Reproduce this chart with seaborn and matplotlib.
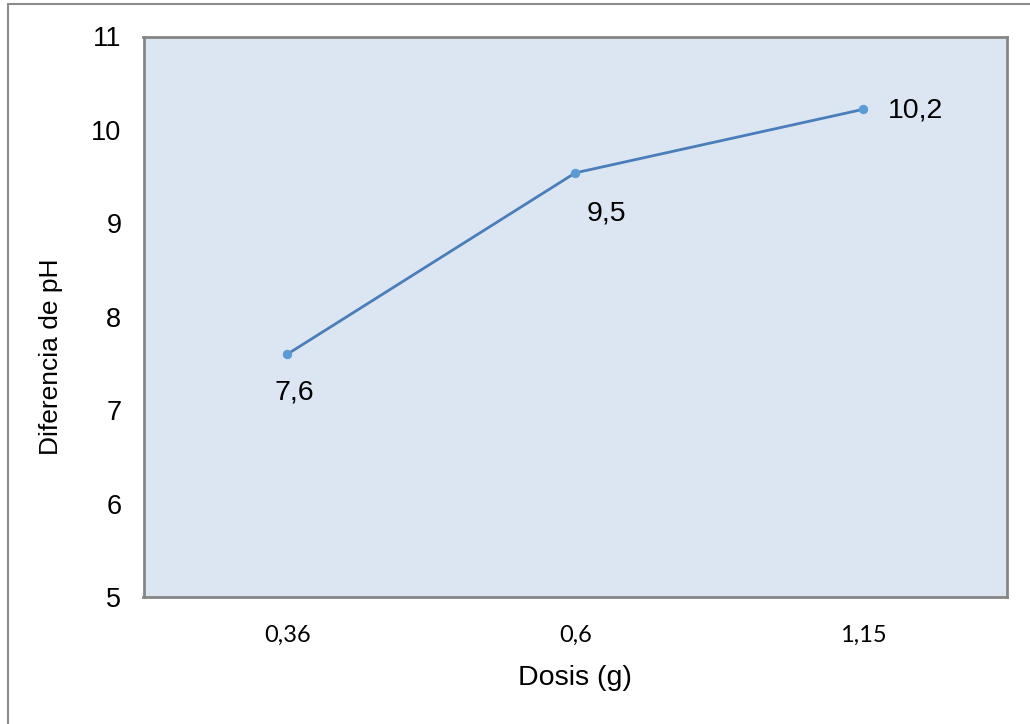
import matplotlib
matplotlib.use("Agg")
import matplotlib.pyplot as plt
import seaborn as sns
import pandas as pd
from matplotlib.lines import Line2D

categories = ["0,36", "0,6", "1,15"]
values = [7.6, 9.54, 10.22]
labels = ["7,6", "9,5", "10,2"]
yticks = [5, 6, 7, 8, 9, 10, 11]

sns.set_theme(style="white")
plt.rcParams['font.family'] = ['Liberation Sans', 'DejaVu Sans']
plt.rcParams['text.color'] = 'black'
plt.rcParams['xtick.labelcolor'] = 'black'
plt.rcParams['ytick.labelcolor'] = 'black'

df = pd.DataFrame({"Dosis": categories, "pH": values})

W, H = 1030, 724
fig = plt.figure(figsize=(W/100, H/100), dpi=100)
ax = fig.add_axes([143.5/W, 1-597/H, (1007-143.5)/W, (597-36.5)/H])
ax.set_facecolor("#DCE6F2")

sns.lineplot(data=df, x="Dosis", y="pH", ax=ax, color="#4A7EBB", linewidth=2,
             marker="o", markersize=6, markerfacecolor="#5B9BD5", markeredgecolor="#5B9BD5",
             sort=False)

ax.set_xlim(-0.5, 2.5)
ax.set_ylim(5, 11)
ax.set_yticks(yticks)
ax.set_yticklabels([str(t) for t in yticks], fontsize=19.5, color='black')
ax.set_xticks([0, 1, 2])
ax.set_xticklabels(categories, fontsize=17, family=['Lato', 'DejaVu Sans'], color='black')
ax.tick_params(axis='x', length=0, pad=20)
ax.tick_params(axis='y', length=0, pad=16)

# minor ticks between categories
ax.set_xticks([-0.5, 0.5, 1.5, 2.5], minor=True)
ax.tick_params(axis='x', which='minor', length=8, width=1, color="#868686", direction='inout')
ax.set_yticks(yticks, minor=True)
ax.tick_params(axis='y', which='minor', length=8, width=1, color="#868686", direction='inout')

for s in ax.spines.values():
    s.set_color("#868686")
    s.set_linewidth(2)

ax.set_xlabel("")
ax.set_ylabel("")
fig.text(575/W, 1-685/H, "Dosis (g)", fontsize=20.5, ha='center', va='baseline', color='black')
fig.text(58/W, 1-357/H, "Diferencia de pH", fontsize=19, ha='center', va='baseline',
         rotation=90, rotation_mode='anchor', color='black')

pos = [(0.023, 7.19, 'center'), (1.11, 9.11, 'center'), (2.087, 10.21, 'left')]
for (x, y, ha), lab in zip(pos, labels):
    ax.text(x, y, lab, fontsize=20.5, ha=ha, va='center', color='black')

# figure border (left and top only)
fig.add_artist(Line2D([8/W, 8/W], [0, 1-4/H], color="#8C8C8C", linewidth=1.5, transform=fig.transFigure))
fig.add_artist(Line2D([8/W, 1], [1-4/H, 1-4/H], color="#8C8C8C", linewidth=1.5, transform=fig.transFigure))

fig.savefig("out.png", dpi=100, facecolor="white")
